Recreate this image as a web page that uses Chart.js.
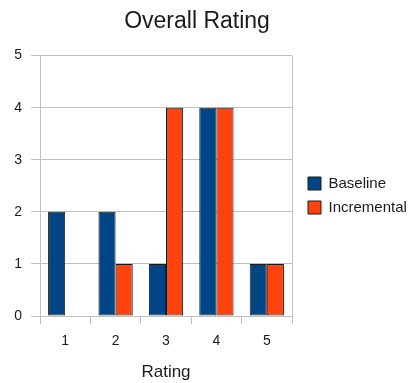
<!DOCTYPE html>
<html>
<head>
<meta charset="utf-8">
<script src="https://cdn.jsdelivr.net/npm/chart.js@4/dist/chart.umd.min.js"></script>
<style>
  html, body { margin: 0; padding: 0; background: #fff; }
  #wrap { width: 414px; height: 383px; }
</style>
</head>
<body>
<div id="wrap"><canvas id="c" width="414" height="383"></canvas></div>
<script>
// Rating categories and counts per build
const categories = ['1', '2', '3', '4', '5'];
const baseline = [2, 2, 1, 4, 1];
const incremental = [null, 1, 4, 4, 1];
const yTicks = [0, 1, 2, 3, 4, 5];

const FONT = '"Liberation Sans", Arial, sans-serif';
const GRID = '#c0c0c0';
const TEXT = '#1a1a1a';
const LEGEND_WIDTH = 122;
const LEGEND_INSET = 7;
const LEGEND_DROP = 4;

// Gives the side legend a fixed width, closes the plot frame on the right
// and nudges the title to the left
const frame = {
  id: 'frame',
  beforeLayout(chart) {
    const lg = chart.legend;
    if (lg && !lg._fixedWidth) {
      const orig = lg.update.bind(lg);
      lg.update = (mw, mh, m) => {
        orig(Math.max(mw, LEGEND_WIDTH + 20), mh, m);
        lg.width = LEGEND_WIDTH;
        lg.right = lg.left + LEGEND_WIDTH;
      };
      lg._fixedWidth = true;
    }
  },
  afterLayout(chart) {
    chart.titleBlock.left -= 20;
    chart.legend.left += LEGEND_INSET;
    chart.legend.top += LEGEND_DROP;
    chart.legend.bottom += LEGEND_DROP;
  },
  afterDraw(chart) {
    const { ctx, chartArea: a } = chart;
    ctx.save();
    ctx.strokeStyle = GRID;
    ctx.lineWidth = 1;
    ctx.beginPath();
    ctx.moveTo(Math.round(a.right) + 0.5, a.top);
    ctx.lineTo(Math.round(a.right) + 0.5, a.bottom + 8);
    ctx.stroke();
    ctx.restore();
  }
};

new Chart(document.getElementById('c'), {
  type: 'bar',
  data: {
    labels: categories,
    datasets: [
      { label: 'Baseline', data: baseline, backgroundColor: '#004586', borderColor: '#1a1a1a', borderWidth: 1, borderSkipped: false },
      { label: 'Incremental', data: incremental, backgroundColor: '#ff420e', borderColor: '#1a1a1a', borderWidth: 1, borderSkipped: false }
    ]
  },
  plugins: [frame],
  options: {
    responsive: false,
    animation: false,
    devicePixelRatio: 1,
    categoryPercentage: 0.68,
    barPercentage: 1.0,
    layout: { padding: 0 },
    plugins: {
      title: {
        display: true,
        text: 'Overall Rating',
        color: TEXT,
        font: { family: FONT, size: 23, weight: 'normal' },
        padding: { top: 8, bottom: 20 }
      },
      legend: {
        position: 'right',
        align: 'center',
        labels: {
          color: TEXT,
          font: { family: FONT, size: 15 },
          boxWidth: 13,
          boxHeight: 13,
          padding: 9,
          useBorderRadius: false
        }
      },
      tooltip: { enabled: false }
    },
    scales: {
      x: {
        offset: true,
        grid: { display: true, offset: true, drawOnChartArea: false, color: GRID, tickLength: 8, lineWidth: 1 },
        border: { display: true, color: GRID, width: 1 },
        ticks: { color: TEXT, font: { family: FONT, size: 14 }, padding: 9 },
        title: { display: true, text: 'Rating', color: TEXT, font: { family: FONT, size: 17 }, padding: { top: 4, bottom: 0 } },
        afterFit: (s) => { s.height = 67; }
      },
      y: {
        min: 0,
        max: 5,
        afterBuildTicks: (s) => { s.ticks = yTicks.map(v => ({ value: v })); },
        grid: { color: GRID, tickLength: 9, lineWidth: 1 },
        border: { display: true, color: GRID, width: 1 },
        ticks: { color: TEXT, font: { family: FONT, size: 14 }, padding: 9 },
        afterFit: (s) => { s.width = 40; }
      }
    }
  }
});
</script>
</body>
</html>
